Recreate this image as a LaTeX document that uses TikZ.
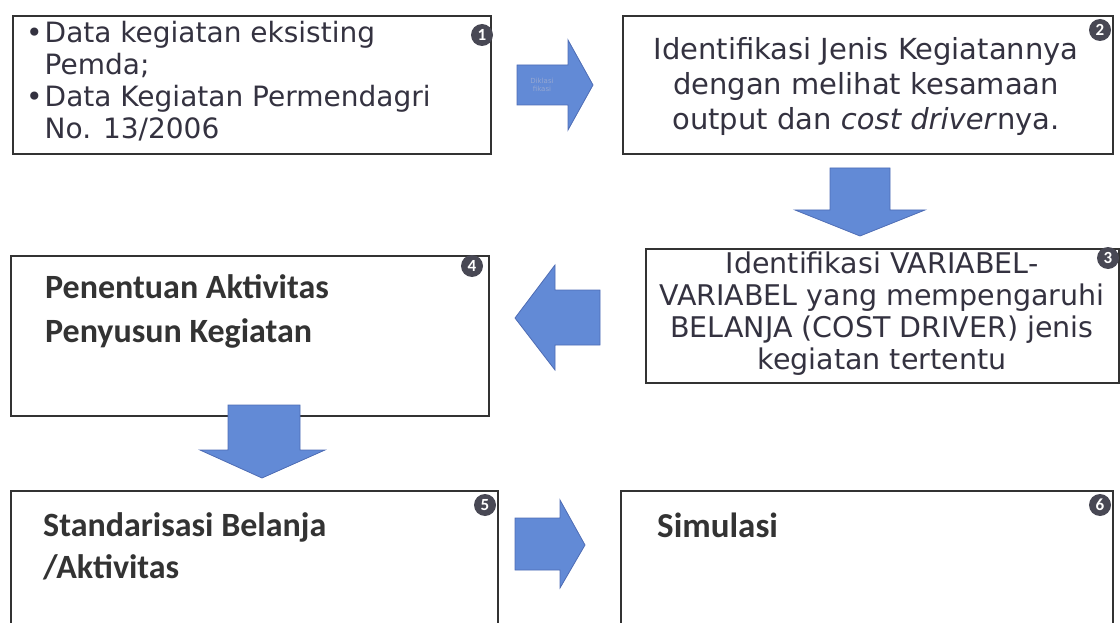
\documentclass[tikz,border=0pt]{standalone}
\usepackage{fontspec}
\setmainfont{DejaVu Sans}
\newfontfamily\calibri{Carlito}
\usepackage{xcolor}
\usepackage{tikz}
\usetikzlibrary{calc}
\usetikzlibrary{positioning}
\definecolor{arrowblue}{RGB}{98,138,214}
\definecolor{arrowedge}{RGB}{78,108,180}
\definecolor{badgegray}{RGB}{72,72,84}
\definecolor{textgray}{RGB}{52,50,64}
\tikzset{
	box/.style={draw=black!80, line width=1.6pt, fill=white, inner sep=0pt, anchor=north west},
	badge/.style={circle, fill=badgegray, text=white, inner sep=0pt, minimum size=22pt,
		font=\calibri\bfseries\fontsize{17}{17}\selectfont},
	blockarrow/.style={fill=arrowblue, draw=arrowedge, line width=0.8pt, line join=miter},
	vtext/.style={text=textgray, inner sep=0pt, font=\fontsize{28}{32}\selectfont},
	ctext/.style={text=black!80, inner sep=0pt, align=left, font=\calibri\bfseries\fontsize{34}{44}\selectfont},
}

\begin{document}
\begin{tikzpicture}[x=1pt, y=-1pt]
			\useasboundingbox (0, 0) rectangle (1120, 623);
			% boxes
			\node[box, minimum width=478pt, minimum height=138pt] (b1) at (12, 15) {};
			\node[box, minimum width=490pt, minimum height=138pt] (b2) at (622, 15) {};
			\node[box, minimum width=473pt, minimum height=134pt] (b3) at (645, 248) {};
			\node[box, minimum width=478pt, minimum height=160pt] (b4) at (10, 255) {};
			\node[box, minimum width=487pt, minimum height=150pt] (b5) at (10, 490) {};
			\node[box, minimum width=492pt, minimum height=150pt] (b6) at (620, 490) {};
			% texts
			\node[vtext, anchor=north west] (t1) at (26, 20) {\begin{tabular}{@{}l@{\hspace{2pt}}l@{}}
				\textbullet & Data kegiatan eksisting\\
				 & Pemda;\\
				\textbullet & Data Kegiatan Permendagri\\
				 & No. 13/2006
			\end{tabular}};
			\node[vtext, align=center, font=\fontsize{29}{35}\selectfont] (t2) at (866, 87) {Identifikasi Jenis Kegiatannya\\
				dengan melihat kesamaan\\output dan \textit{cost driver}nya.};
			\node[vtext, align=center, font=\fontsize{28.5}{32}\selectfont] (t3) at (882, 314) {Identifikasi VARIABEL-\\
				VARIABEL yang mempengaruhi\\BELANJA (COST DRIVER) jenis\\kegiatan tertentu};
			\node[ctext, anchor=north west] (t4) at (45, 274) {Penentuan Aktivitas\\Penyusun Kegiatan};
			\node[ctext, anchor=north west, font=\calibri\bfseries\fontsize{34}{42}\selectfont] (t5) at (43, 512) {Standarisasi Belanja\\/Aktivitas};
			\node[ctext, anchor=north west, font=\calibri\bfseries\fontsize{35}{42}\selectfont] (t6) at (657, 513) {Simulasi};
			% numbers
			\node[badge] (n1) at (482, 35) {1};
			\node[badge] (n2) at (1100, 30) {2};
			\node[badge] (n3) at (1108, 258) {3};
			\node[badge] (n4) at (472, 266) {4};
			\node[badge] (n5) at (485, 505) {5};
			\node[badge] (n6) at (1100, 505) {6};
			% block arrows
			\draw[blockarrow] (517, 65) -- (568, 65) -- (568, 40) -- (593, 85) -- (568, 130) -- (568, 105) -- (517, 105) -- cycle;
			\node[text=arrowedge!60!white, align=center, inner sep=0pt, font=\fontsize{7}{8}\selectfont] (a1) at (542, 85) {Diklasi\\fikasi};
			\draw[blockarrow] (830, 168) -- (890, 168) -- (890, 210) -- (925, 210) -- (860, 236) -- (795, 210) -- (830, 210) -- cycle;
			\draw[blockarrow] (600, 290) -- (600, 345) -- (555, 345) -- (555, 370) -- (515, 318) -- (555, 265) -- (555, 290) -- cycle;
			\draw[blockarrow] (228, 405) -- (300, 405) -- (300, 450) -- (325, 450) -- (262, 478) -- (200, 450) -- (228, 450) -- cycle;
			\draw[blockarrow] (515, 518) -- (560, 518) -- (560, 500) -- (585, 545) -- (560, 588) -- (560, 570) -- (515, 570) -- cycle;
		\end{tikzpicture}
\end{document}
